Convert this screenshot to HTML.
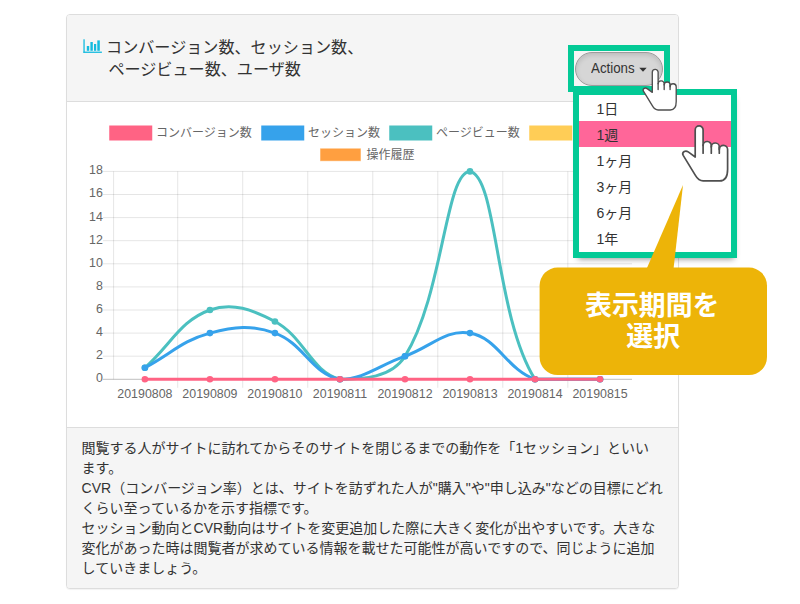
<!DOCTYPE html>
<html lang="ja"><head><meta charset="utf-8"><title>chart</title>
<style>
html,body{margin:0;padding:0;background:#fff;}
body{width:800px;height:604px;position:relative;overflow:hidden;font-family:"Liberation Sans",sans-serif;color:#333;}
.panel{position:absolute;left:66px;top:14px;width:611px;height:573px;border:1px solid #ddd;border-radius:4px;box-shadow:0 1px 1px rgba(0,0,0,.05);background:#fff;}
.heading{position:absolute;left:0;top:0;width:611px;height:86px;background:#f5f5f5;border-bottom:1px solid #ddd;border-radius:3px 3px 0 0;}
.footer{position:absolute;left:0;top:412px;width:611px;height:160px;border-top:1px solid #ddd;background:#f5f5f5;border-radius:0 0 3px 3px;}
.layer{position:absolute;left:0;top:0;width:800px;height:604px;overflow:visible;}
.ax{font-family:"Liberation Sans",sans-serif;font-size:12.4px;fill:#666;}
.jp{font-family:"Liberation Sans","Noto Sans CJK JP",sans-serif;}
.btn{position:absolute;left:575.2px;top:51.5px;width:86px;height:32.2px;border:1px solid #9c9c9c;border-radius:17px;background:#d6d6d6;box-shadow:inset 0 2px 5px rgba(0,0,0,.13);font-size:14.4px;line-height:31.5px;color:#333;}
.btn span{position:absolute;left:15.1px;top:0.4px;transform:scaleX(0.925);transform-origin:0 0;}
.btn svg{position:absolute;left:-0.2px;top:0.5px;overflow:visible;}
.menu{position:absolute;left:576px;top:92px;width:158px;height:163px;background:#fff;box-shadow:0.5px 5px 6px -1px rgba(0,0,0,.42);}
.sel{position:absolute;left:579px;top:121px;width:152px;height:26px;background:#FF6699;}
.frame{position:absolute;border:6px solid #03CA96;box-sizing:border-box;}
.sr{position:absolute;left:0;top:0;width:1px;height:1px;overflow:hidden;color:transparent;font-size:1px;white-space:nowrap;}
</style></head><body>
<div class="panel"><div class="heading"></div><div class="footer"></div></div>
<svg class="layer" viewBox="0 0 800 604">
<g fill="#14BBDF"><rect x="83.4" y="39.3" width="1.3" height="13.5"/><rect x="83.4" y="51.6" width="18.5" height="1.3"/><rect x="86.8" y="46" width="2.4" height="4.8"/><rect x="90.4" y="42" width="2.4" height="8.8"/><rect x="94" y="44" width="2.2" height="6.8"/><rect x="97.3" y="40.4" width="2.5" height="10.4"/></g>
<line x1="103.00" y1="379.30" x2="632.00" y2="379.30" stroke="rgba(0,0,0,0.25)" stroke-width="1"/><line x1="103.00" y1="356.20" x2="632.00" y2="356.20" stroke="rgba(0,0,0,0.1)" stroke-width="1"/><line x1="103.00" y1="333.10" x2="632.00" y2="333.10" stroke="rgba(0,0,0,0.1)" stroke-width="1"/><line x1="103.00" y1="310.00" x2="632.00" y2="310.00" stroke="rgba(0,0,0,0.1)" stroke-width="1"/><line x1="103.00" y1="286.90" x2="632.00" y2="286.90" stroke="rgba(0,0,0,0.1)" stroke-width="1"/><line x1="103.00" y1="263.80" x2="632.00" y2="263.80" stroke="rgba(0,0,0,0.1)" stroke-width="1"/><line x1="103.00" y1="240.70" x2="632.00" y2="240.70" stroke="rgba(0,0,0,0.1)" stroke-width="1"/><line x1="103.00" y1="217.60" x2="632.00" y2="217.60" stroke="rgba(0,0,0,0.1)" stroke-width="1"/><line x1="103.00" y1="194.50" x2="632.00" y2="194.50" stroke="rgba(0,0,0,0.1)" stroke-width="1"/><line x1="103.00" y1="171.40" x2="632.00" y2="171.40" stroke="rgba(0,0,0,0.1)" stroke-width="1"/><line x1="113.60" y1="171.40" x2="113.60" y2="379.30" stroke="rgba(0,0,0,0.1)" stroke-width="1"/><line x1="177.71" y1="171.40" x2="177.71" y2="387.80" stroke="rgba(0,0,0,0.1)" stroke-width="1"/><line x1="242.73" y1="171.40" x2="242.73" y2="387.80" stroke="rgba(0,0,0,0.1)" stroke-width="1"/><line x1="307.75" y1="171.40" x2="307.75" y2="387.80" stroke="rgba(0,0,0,0.1)" stroke-width="1"/><line x1="372.77" y1="171.40" x2="372.77" y2="387.80" stroke="rgba(0,0,0,0.1)" stroke-width="1"/><line x1="437.79" y1="171.40" x2="437.79" y2="387.80" stroke="rgba(0,0,0,0.1)" stroke-width="1"/><line x1="502.81" y1="171.40" x2="502.81" y2="387.80" stroke="rgba(0,0,0,0.1)" stroke-width="1"/><line x1="567.83" y1="171.40" x2="567.83" y2="387.80" stroke="rgba(0,0,0,0.1)" stroke-width="1"/><text x="102.8" y="382.20" text-anchor="end" class="ax">0</text><text x="102.8" y="359.10" text-anchor="end" class="ax">2</text><text x="102.8" y="336.00" text-anchor="end" class="ax">4</text><text x="102.8" y="312.90" text-anchor="end" class="ax">6</text><text x="102.8" y="289.80" text-anchor="end" class="ax">8</text><text x="102.8" y="266.70" text-anchor="end" class="ax">10</text><text x="102.8" y="243.60" text-anchor="end" class="ax">12</text><text x="102.8" y="220.50" text-anchor="end" class="ax">14</text><text x="102.8" y="197.40" text-anchor="end" class="ax">16</text><text x="102.8" y="174.30" text-anchor="end" class="ax">18</text><text x="144.90" y="397.80" text-anchor="middle" class="ax">20190808</text><text x="209.92" y="397.80" text-anchor="middle" class="ax">20190809</text><text x="274.94" y="397.80" text-anchor="middle" class="ax">20190810</text><text x="339.96" y="397.80" text-anchor="middle" class="ax">20190811</text><text x="404.98" y="397.80" text-anchor="middle" class="ax">20190812</text><text x="470.00" y="397.80" text-anchor="middle" class="ax">20190813</text><text x="535.02" y="397.80" text-anchor="middle" class="ax">20190814</text><text x="600.04" y="397.80" text-anchor="middle" class="ax">20190815</text><path d="M144.90,367.75C170.91,344.65 180.35,320.50 209.92,310.00C232.37,302.02 252.49,309.59 274.94,321.55C304.51,337.31 310.96,371.57 339.96,379.30C362.97,379.30 391.43,377.86 404.98,356.20C443.45,294.70 445.37,171.40 470.00,171.40C497.39,176.26 494.96,315.26 535.02,379.30C546.98,379.30 574.03,379.30 600.04,379.30" fill="none" stroke="#4BC0C0" stroke-width="3" stroke-linejoin="round" stroke-linecap="butt"/><circle cx="144.90" cy="367.75" r="3.3" fill="#4BC0C0"/><circle cx="209.92" cy="310.00" r="3.3" fill="#4BC0C0"/><circle cx="274.94" cy="321.55" r="3.3" fill="#4BC0C0"/><circle cx="339.96" cy="379.30" r="3.3" fill="#4BC0C0"/><circle cx="404.98" cy="356.20" r="3.3" fill="#4BC0C0"/><circle cx="470.00" cy="171.40" r="3.3" fill="#4BC0C0"/><circle cx="535.02" cy="379.30" r="3.3" fill="#4BC0C0"/><circle cx="600.04" cy="379.30" r="3.3" fill="#4BC0C0"/><path d="M144.90,367.75C170.91,353.89 182.29,340.46 209.92,333.10C234.30,326.60 251.58,324.80 274.94,333.10C303.60,343.28 312.07,374.35 339.96,379.30C364.09,379.30 378.97,365.44 404.98,356.20C430.99,346.96 445.87,328.81 470.00,333.10C497.89,338.05 506.36,369.12 535.02,379.30C558.38,379.30 574.03,379.30 600.04,379.30" fill="none" stroke="#36A2EB" stroke-width="3" stroke-linejoin="round" stroke-linecap="butt"/><circle cx="144.90" cy="367.75" r="3.3" fill="#36A2EB"/><circle cx="209.92" cy="333.10" r="3.3" fill="#36A2EB"/><circle cx="274.94" cy="333.10" r="3.3" fill="#36A2EB"/><circle cx="339.96" cy="379.30" r="3.3" fill="#36A2EB"/><circle cx="404.98" cy="356.20" r="3.3" fill="#36A2EB"/><circle cx="470.00" cy="333.10" r="3.3" fill="#36A2EB"/><circle cx="535.02" cy="379.30" r="3.3" fill="#36A2EB"/><circle cx="600.04" cy="379.30" r="3.3" fill="#36A2EB"/><path d="M144.90,379.30C170.91,379.30 183.91,379.30 209.92,379.30C235.93,379.30 248.93,379.30 274.94,379.30C300.95,379.30 313.95,379.30 339.96,379.30C365.97,379.30 378.97,379.30 404.98,379.30C430.99,379.30 443.99,379.30 470.00,379.30C496.01,379.30 509.01,379.30 535.02,379.30C561.03,379.30 574.03,379.30 600.04,379.30" fill="none" stroke="#FF6384" stroke-width="3" stroke-linejoin="round" stroke-linecap="butt"/><circle cx="144.90" cy="379.30" r="3.3" fill="#FF6384"/><circle cx="209.92" cy="379.30" r="3.3" fill="#FF6384"/><circle cx="274.94" cy="379.30" r="3.3" fill="#FF6384"/><circle cx="339.96" cy="379.30" r="3.3" fill="#FF6384"/><circle cx="404.98" cy="379.30" r="3.3" fill="#FF6384"/><circle cx="470.00" cy="379.30" r="3.3" fill="#FF6384"/><circle cx="535.02" cy="379.30" r="3.3" fill="#FF6384"/><circle cx="600.04" cy="379.30" r="3.3" fill="#FF6384"/><rect x="109.25" y="125.50" width="43" height="15" fill="#FF6384"/><rect x="261.25" y="125.50" width="43" height="15" fill="#36A2EB"/><rect x="389.25" y="125.50" width="43" height="15" fill="#4BC0C0"/><rect x="529.25" y="125.50" width="43" height="15" fill="#FFCD56"/><rect x="320.50" y="148.75" width="40" height="12" fill="#FF9F40" stroke="#FF9F40" stroke-opacity="0.45" stroke-width="1"/>
<g class="jp" font-size="12" fill="#666">
<text x="156" y="137">コンバージョン数</text>
<text x="308" y="137">セッション数</text>
<text x="436" y="137">ページビュー数</text>
<text x="576" y="137">ユーザ数</text>
<text x="366.5" y="158.95">操作履歴</text>
</g>
<g class="jp" font-size="16.1" fill="#333">
<text x="106.1" y="52.5">コンバージョン数、セッション数、</text>
<text x="108.4" y="75.2">ページビュー数、ユーザ数</text>
</g>
<g class="jp" font-size="14" fill="#333">
<text x="81.6" y="453.4">閲覧する人がサイトに訪れてからそのサイトを閉じるまでの動作を「1セッション」といい</text>
<text x="81.6" y="473.4">ます。</text>
<text x="81.6" y="493.4">CVR（コンバージョン率）とは、サイトを訪ずれた人が"購入"や"申し込み"などの目標にどれ</text>
<text x="81.6" y="513.4">くらい至っているかを示す指標です。</text>
<text x="81.6" y="533.4">セッション動向とCVR動向はサイトを変更追加した際に大きく変化が出やすいです。大きな</text>
<text x="81.6" y="553.4">変化があった時は閲覧者が求めている情報を載せた可能性が高いですので、同じように追加</text>
<text x="81.6" y="573.4">していきましょう。</text>
</g>
</svg>
<div class="btn"><span>Actions</span><svg width="86" height="31"><path d="M63.3,14.8 L70.7,14.8 L67,18.7 Z" fill="#333"/></svg></div>
<div class="menu"></div>
<div class="sel"></div>
<div class="frame" style="left:568px;top:45px;width:102px;height:47px;"></div>
<div class="frame" style="left:573px;top:89px;width:164px;height:169px;"></div>
<svg class="layer" viewBox="0 0 800 604">
<path d="M683,185 L673.5,269 L646.5,269 Z" fill="#EDB408"/>
<rect x="539.6" y="267.6" width="227.4" height="107.4" rx="18" ry="18" fill="#EDB408"/>
<g class="jp" font-size="14" fill="#333">
<text x="596.4" y="113.6">1日</text>
<text x="596.4" y="139.6">1週</text>
<text x="596.4" y="165.6">1ヶ月</text>
<text x="596.4" y="191.6">3ヶ月</text>
<text x="596.4" y="217.6">6ヶ月</text>
<text x="596.4" y="243.6">1年</text>
</g>
<g class="jp" font-size="26.9" font-weight="bold" fill="#fff">
<text x="585.05" y="315.4">表示期間を</text>
<text x="626.3" y="345.9">選択</text>
</g>
<g transform="translate(643.00,69.40) scale(0.7380)" stroke="#4f4f4f" stroke-width="1.829" stroke-linejoin="round" stroke-linecap="round"><path d="M12.6,31.1 L12.6,4 A3.95,3.95 0 0 1 20.5,4 L20.5,19.5 A4.1,4.1 0 0 1 28.7,19.9 L28.7,21 A4,4 0 0 1 36.7,21.2 L36.7,23.5 A4.15,4.15 0 0 1 45,23.7 L45,43.5 Q45,55 37,55 L20.5,55 Q16,55 12.8,49.5 L0.6,29.5 Q-0.8,27 1.6,25.6 Q3.6,24.6 5.6,26 Z" fill="#fff"/><path d="M20.5,19 L20.5,27.3 M28.7,20 L28.7,27.3 M36.7,21.5 L36.7,27.3" fill="none"/></g>
<g transform="translate(682.60,125.90) scale(1.0000)" stroke="#4f4f4f" stroke-width="1.700" stroke-linejoin="round" stroke-linecap="round"><path d="M12.6,31.1 L12.6,4 A3.95,3.95 0 0 1 20.5,4 L20.5,19.5 A4.1,4.1 0 0 1 28.7,19.9 L28.7,21 A4,4 0 0 1 36.7,21.2 L36.7,23.5 A4.15,4.15 0 0 1 45,23.7 L45,43.5 Q45,55 37,55 L20.5,55 Q16,55 12.8,49.5 L0.6,29.5 Q-0.8,27 1.6,25.6 Q3.6,24.6 5.6,26 Z" fill="#fff"/><path d="M20.5,19 L20.5,27.3 M28.7,20 L28.7,27.3 M36.7,21.5 L36.7,27.3" fill="none"/></g>
</svg>
<div class="sr">コンバージョン数、セッション数、ページビュー数、ユーザ数 コンバージョン数 セッション数 ページビュー数 ユーザ数 操作履歴 1日 1週 1ヶ月 3ヶ月 6ヶ月 1年 表示期間を選択 閲覧する人がサイトに訪れてからそのサイトを閉じるまでの動作を「1セッション」といいます。CVR（コンバージョン率）とは、サイトを訪ずれた人が"購入"や"申し込み"などの目標にどれくらい至っているかを示す指標です。セッション動向とCVR動向はサイトを変更追加した際に大きく変化が出やすいです。大きな変化があった時は閲覧者が求めている情報を載せた可能性が高いですので、同じように追加していきましょう。</div>
</body></html>
